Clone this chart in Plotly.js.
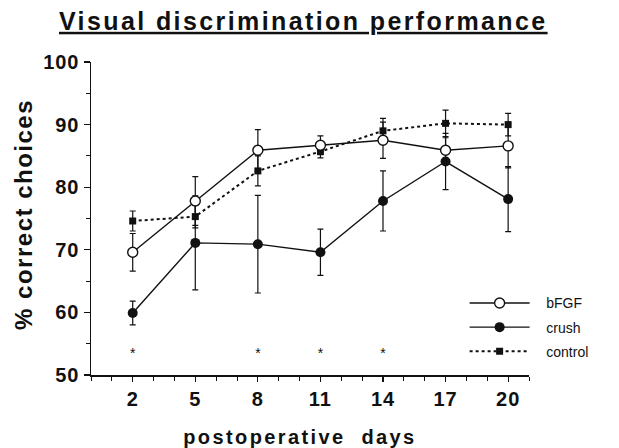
<!DOCTYPE html>
<html><head><meta charset="utf-8">
<script src="https://cdn.plot.ly/plotly-3.0.1.min.js"></script>
<style>
body{margin:0;background:#fff}#c{width:619px;height:448px}
#c .gtitle{letter-spacing:2.4px}
#c .xtick text,#c .ytick text{letter-spacing:1px}
#c g.annotation[data-index="0"] text{letter-spacing:2.4px}
#c g.annotation[data-index="1"] text{letter-spacing:1.5px}
</style>
</head><body><div id="c"></div>
<script>
const days = [2, 5, 8, 11, 14, 17, 20];
const bfgf = [69.6, 77.8, 85.9, 86.7, 87.5, 85.9, 86.6];
const bfgfErr = [3.0, 3.9, 3.3, 1.5, 2.9, 2.0, 3.5];
const crush = [59.9, 71.1, 70.9, 69.6, 77.8, 84.1, 78.1];
const crushErr = [1.9, 7.5, 7.8, 3.7, 4.8, 4.5, 5.2];
const control = [74.6, 75.3, 82.6, 85.7, 89.0, 90.2, 90.0];
const controlErr = [1.6, 1.8, 2.4, 1.0, 2.0, 2.1, 1.8];
const sigDays = [2, 8, 11, 14];
const tickDays = [2, 5, 8, 11, 14, 17, 20];

const F = 'Liberation Sans, Arial, sans-serif';
const pad = '\u00a0\u00a0\u00a0';
const eb = arr => ({type:'data', array:arr, visible:true, color:'#111', thickness:1.2, width:3});

const traces = [
  {x:days, y:control, error_y:eb(controlErr), name:pad+'control', legendgroup:'c', legendrank:3, mode:'lines+markers',
   line:{color:'#111', width:2, dash:'dot'}, marker:{symbol:'square', size:7, color:'#111'}},
  {x:days, y:crush, error_y:eb(crushErr), name:pad+'crush', legendgroup:'b', legendrank:2, mode:'lines+markers',
   line:{color:'#111', width:1.4}, marker:{symbol:'circle', size:10, color:'#111'}},
  {x:days, y:bfgf, error_y:eb(bfgfErr), name:pad+'bFGF', legendgroup:'a', legendrank:1, mode:'lines+markers',
   line:{color:'#111', width:1.4}, marker:{symbol:'circle', size:10, color:'#fff', line:{color:'#111', width:1.4}}},
  {x:sigDays, y:sigDays.map(()=>53.3), mode:'text', text:sigDays.map(()=>'*'), showlegend:false,
   textfont:{family:F, size:14, color:'#111'}, hoverinfo:'skip'}
];

const layout = {
  width:619, height:448,
  margin:{l:91, r:90, t:62, b:73},
  paper_bgcolor:'#fff', plot_bgcolor:'#fff',
  showlegend:true,
  legend:{x:0.853, y:0.28, xanchor:'left', yanchor:'top', traceorder:'grouped', tracegroupgap:3, itemwidth:60,
    font:{family:F, size:14, color:'#111'}, bgcolor:'rgba(0,0,0,0)'},
  title:{text:'<b>Visual discrimination performance</b>', x:0.49, xref:'container', xanchor:'center',
    y:0.953, yref:'container', yanchor:'middle',
    font:{family:F, size:25, color:'#111', lineposition:'under'}},
  xaxis:{range:[0,21], showgrid:false, zeroline:false, showline:true, linecolor:'#111', linewidth:1.5,
    tickvals:tickDays, ticktext:tickDays.map(String), ticks:'outside', ticklen:5, tickcolor:'#111', tickwidth:1.2,
    minor:{dtick:1, tick0:0, ticks:'outside', ticklen:4, tickcolor:'#111', tickwidth:1},
    tickfont:{family:F, size:20, color:'#111', weight:'bold'}},
  yaxis:{range:[50,100], showgrid:false, zeroline:false, showline:true, linecolor:'#111', linewidth:1.5,
    dtick:10, tick0:50, ticks:'outside', ticklen:6, tickcolor:'#111', tickwidth:1.2,
    minor:{dtick:5, ticks:'outside', ticklen:4, tickcolor:'#111', tickwidth:1},
    tickfont:{family:F, size:20, color:'#111', weight:'bold'}},
  annotations:[
    {text:'<b>postoperative&nbsp; days</b>', xref:'paper', yref:'paper', x:0.477, y:-0.198, xanchor:'center', yanchor:'middle',
     showarrow:false, font:{family:F, size:20, color:'#111'}},
    {text:'<b>% correct choices</b>', xref:'paper', yref:'paper', x:-0.155, y:0.511, xanchor:'center', yanchor:'middle',
     textangle:-90, showarrow:false, font:{family:F, size:24, color:'#111'}}
  ]
};
Plotly.newPlot('c', traces, layout, {displayModeBar:false, staticPlot:true});
</script></body></html>
